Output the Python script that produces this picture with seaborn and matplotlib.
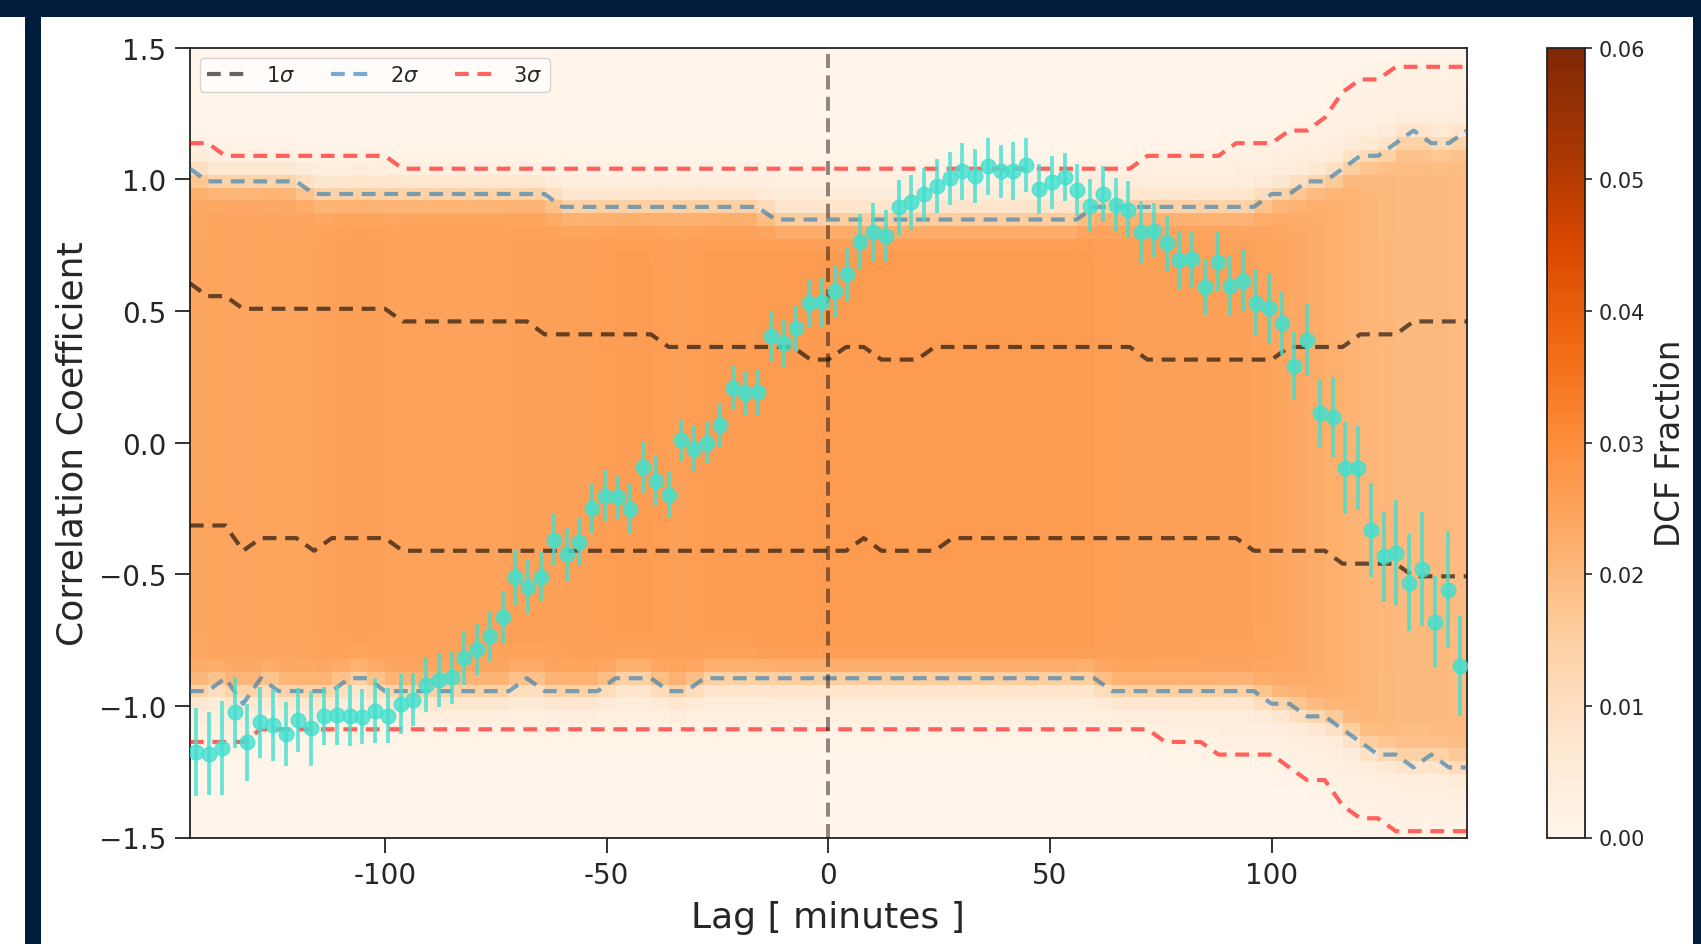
import numpy as np
import matplotlib
matplotlib.use("Agg")
import matplotlib.pyplot as plt
from matplotlib.patches import Rectangle
import seaborn as sns

# ---------------------------------------------------------------- data
# DCF of the observed light curves: 100 lag bins spanning -144 ... 144 min
lag_limits = (-144.0, 144.0)
n_lag_bins = 100

dcf_corr = [
    -1.177, -1.181, -1.160, -1.025, -1.139, -1.063, -1.073, -1.107, -1.054, -1.085,
    -1.037, -1.034, -1.037, -1.041, -1.018, -1.037, -0.993, -0.977, -0.920, -0.902,
    -0.892, -0.820, -0.784, -0.734, -0.664, -0.512, -0.548, -0.510, -0.370, -0.423,
    -0.379, -0.250, -0.202, -0.206, -0.252, -0.094, -0.145, -0.199, 0.010, -0.025,
    -0.002, 0.066, 0.209, 0.188, 0.191, 0.403, 0.378, 0.434, 0.530, 0.532,
    0.574, 0.639, 0.763, 0.798, 0.786, 0.893, 0.912, 0.943, 0.975, 1.003,
    1.030, 1.011, 1.049, 1.030, 1.030, 1.054, 0.963, 0.988, 1.007, 0.960,
    0.900, 0.944, 0.902, 0.884, 0.801, 0.805, 0.756, 0.694, 0.697, 0.589,
    0.684, 0.596, 0.615, 0.529, 0.510, 0.454, 0.289, 0.391, 0.112, 0.096,
    -0.097, -0.097, -0.331, -0.432, -0.420, -0.533, -0.480, -0.680, -0.559, -0.848,
]

dcf_err = [
    0.167, 0.157, 0.178, 0.135, 0.146, 0.134, 0.138, 0.122, 0.120, 0.142,
    0.110, 0.115, 0.115, 0.105, 0.122, 0.105, 0.113, 0.101, 0.105, 0.101,
    0.101, 0.100, 0.098, 0.095, 0.101, 0.104, 0.101, 0.096, 0.100, 0.101,
    0.091, 0.092, 0.096, 0.084, 0.093, 0.096, 0.093, 0.086, 0.080, 0.088,
    0.080, 0.086, 0.087, 0.085, 0.087, 0.092, 0.092, 0.085, 0.091, 0.097,
    0.100, 0.103, 0.104, 0.110, 0.098, 0.106, 0.103, 0.101, 0.103, 0.099,
    0.108, 0.103, 0.107, 0.101, 0.110, 0.103, 0.095, 0.101, 0.091, 0.098,
    0.101, 0.108, 0.103, 0.108, 0.118, 0.105, 0.105, 0.110, 0.108, 0.106,
    0.114, 0.115, 0.120, 0.125, 0.135, 0.120, 0.129, 0.138, 0.129, 0.152,
    0.174, 0.158, 0.179, 0.173, 0.201, 0.184, 0.215, 0.173, 0.222, 0.191,
]

# significance envelopes from simulated light curves, sampled every 4 min
sig_lags = np.arange(-144, 145, 4)

sig1_hi = [
    0.605, 0.556, 0.556, 0.508, 0.508, 0.508, 0.508, 0.508, 0.508, 0.508,
    0.508, 0.508, 0.460, 0.460, 0.460, 0.460, 0.460, 0.460, 0.460, 0.460,
    0.411, 0.411, 0.411, 0.411, 0.411, 0.411, 0.411, 0.363, 0.363, 0.363,
    0.363, 0.363, 0.363, 0.363, 0.363, 0.315, 0.315, 0.363, 0.363, 0.315,
    0.315, 0.315, 0.363, 0.363, 0.363, 0.363, 0.363, 0.363, 0.363, 0.363,
    0.363, 0.363, 0.363, 0.363, 0.315, 0.315, 0.315, 0.315, 0.315, 0.315,
    0.315, 0.315, 0.363, 0.363, 0.363, 0.363, 0.411, 0.411, 0.411, 0.460,
    0.460, 0.460, 0.460,
]
sig1_lo = [
    -0.315, -0.315, -0.315, -0.411, -0.363, -0.363, -0.363, -0.411, -0.363, -0.363,
    -0.363, -0.363, -0.411, -0.411, -0.411, -0.411, -0.411, -0.411, -0.411, -0.411,
    -0.411, -0.411, -0.411, -0.411, -0.411, -0.411, -0.411, -0.411, -0.411, -0.411,
    -0.411, -0.411, -0.411, -0.411, -0.411, -0.411, -0.411, -0.411, -0.363, -0.411,
    -0.411, -0.411, -0.411, -0.363, -0.363, -0.363, -0.363, -0.363, -0.363, -0.363,
    -0.363, -0.363, -0.363, -0.363, -0.363, -0.363, -0.363, -0.363, -0.363, -0.363,
    -0.411, -0.411, -0.411, -0.411, -0.411, -0.460, -0.460, -0.460, -0.460, -0.508,
    -0.508, -0.508, -0.508,
]
sig2_hi = [
    1.040, 0.992, 0.992, 0.992, 0.992, 0.992, 0.992, 0.944, 0.944, 0.944,
    0.944, 0.944, 0.944, 0.944, 0.944, 0.944, 0.944, 0.944, 0.944, 0.944,
    0.944, 0.895, 0.895, 0.895, 0.895, 0.895, 0.895, 0.895, 0.895, 0.895,
    0.895, 0.895, 0.895, 0.847, 0.847, 0.847, 0.847, 0.847, 0.847, 0.847,
    0.847, 0.847, 0.847, 0.847, 0.847, 0.847, 0.847, 0.847, 0.847, 0.847,
    0.847, 0.895, 0.895, 0.895, 0.895, 0.895, 0.895, 0.895, 0.895, 0.895,
    0.895, 0.944, 0.944, 0.992, 0.992, 1.040, 1.089, 1.089, 1.137, 1.185,
    1.137, 1.137, 1.185,
]
sig2_lo = [
    -0.944, -0.944, -0.895, -0.992, -0.895, -0.944, -0.944, -0.944, -0.944, -0.895,
    -0.895, -0.944, -0.944, -0.944, -0.944, -0.944, -0.944, -0.944, -0.944, -0.895,
    -0.944, -0.944, -0.944, -0.944, -0.895, -0.895, -0.895, -0.944, -0.944, -0.895,
    -0.895, -0.895, -0.895, -0.895, -0.895, -0.895, -0.895, -0.895, -0.895, -0.895,
    -0.895, -0.895, -0.895, -0.895, -0.895, -0.895, -0.895, -0.895, -0.895, -0.895,
    -0.895, -0.895, -0.944, -0.944, -0.944, -0.944, -0.944, -0.944, -0.944, -0.944,
    -0.944, -0.992, -0.992, -1.040, -1.040, -1.089, -1.137, -1.185, -1.185, -1.234,
    -1.185, -1.234, -1.234,
]
sig3_hi = [
    1.137, 1.137, 1.089, 1.089, 1.089, 1.089, 1.089, 1.089, 1.089, 1.089,
    1.089, 1.089, 1.040, 1.040, 1.040, 1.040, 1.040, 1.040, 1.040, 1.040,
    1.040, 1.040, 1.040, 1.040, 1.040, 1.040, 1.040, 1.040, 1.040, 1.040,
    1.040, 1.040, 1.040, 1.040, 1.040, 1.040, 1.040, 1.040, 1.040, 1.040,
    1.040, 1.040, 1.040, 1.040, 1.040, 1.040, 1.040, 1.040, 1.040, 1.040,
    1.040, 1.040, 1.040, 1.040, 1.089, 1.089, 1.089, 1.089, 1.089, 1.137,
    1.137, 1.137, 1.185, 1.185, 1.234, 1.331, 1.379, 1.379, 1.427, 1.427,
    1.427, 1.427, 1.427,
]
sig3_lo = [
    -1.137, -1.137, -1.137, -1.137, -1.089, -1.089, -1.089, -1.089, -1.089, -1.089,
    -1.089, -1.089, -1.089, -1.089, -1.089, -1.089, -1.089, -1.089, -1.089, -1.089,
    -1.089, -1.089, -1.089, -1.089, -1.089, -1.089, -1.089, -1.089, -1.089, -1.089,
    -1.089, -1.089, -1.089, -1.089, -1.089, -1.089, -1.089, -1.089, -1.089, -1.089,
    -1.089, -1.089, -1.089, -1.089, -1.089, -1.089, -1.089, -1.089, -1.089, -1.089,
    -1.089, -1.089, -1.089, -1.089, -1.089, -1.137, -1.137, -1.137, -1.185, -1.185,
    -1.185, -1.185, -1.234, -1.282, -1.282, -1.379, -1.427, -1.427, -1.476, -1.476,
    -1.476, -1.476, -1.476,
]

x_ticks = [-100, -50, 0, 50, 100]
y_ticks = [-1.5, -1.0, -0.5, 0.0, 0.5, 1.0, 1.5]
cbar_ticks = [0.00, 0.01, 0.02, 0.03, 0.04, 0.05, 0.06]

# ---------------------------------------------------------------- derived grids
lag_edges = np.linspace(lag_limits[0], lag_limits[1], n_lag_bins + 1)
dcf_lags = 0.5 * (lag_edges[:-1] + lag_edges[1:])

# simulated-DCF histogram: 72 lag columns x 62 correlation rows, each
# column holding the fraction of simulated DCF values per correlation bin
map_lag_edges = sig_lags.astype(float)
corr_edges = np.linspace(-1.5, 1.5, 63)
corr_mid = 0.5 * (corr_edges[:-1] + corr_edges[1:])


def column_mean(v):
    v = np.asarray(v, dtype=float)
    return 0.5 * (v[:-1] + v[1:])


def soft_band(lo, hi, width):
    r = corr_mid[:, None]
    return (1.0 / (1.0 + np.exp(-(r - lo[None, :]) / width))) * \
           (1.0 / (1.0 + np.exp(-(hi[None, :] - r) / width)))


core = soft_band(column_mean(sig2_lo), column_mean(sig2_hi), 0.032)
tail = soft_band(column_mean(sig3_lo), column_mean(sig3_hi), 0.04)
dcf_fraction = core + 0.16 * tail
dcf_fraction /= dcf_fraction.sum(axis=0, keepdims=True)

# ---------------------------------------------------------------- figure
sns.set_style("ticks")
plt.rcParams["font.family"] = ["DejaVu Sans"]
plt.rcParams["mathtext.fontset"] = "dejavusans"

W, H = 1701, 945
fig = plt.figure(figsize=(W / 100, H / 100), dpi=100)
fig.patch.set_facecolor("white")

ax_l, ax_b = 189.9 / W, (H - 838.5) / H
ax_w, ax_h = 1276.8 / W, 789.9 / H
ax = fig.add_axes([ax_l, ax_b, ax_w, ax_h])
cax = fig.add_axes([1546.7 / W, ax_b, 38.5 / W, ax_h])

mesh = ax.pcolormesh(map_lag_edges, corr_edges, dcf_fraction, cmap="Oranges",
                     vmin=0.0, vmax=0.06, shading="flat", zorder=1)

envelopes = [
    (r"$1\sigma$", sig1_hi, sig1_lo, "black"),
    (r"$2\sigma$", sig2_hi, sig2_lo, "#1f77b4"),
    (r"$3\sigma$", sig3_hi, sig3_lo, "red"),
]
dash = (0, (3.3, 2.1))
for label, hi, lo, colour in envelopes:
    sns.lineplot(x=sig_lags, y=hi, ax=ax, color=colour, alpha=0.6, lw=3.0,
                 linestyle=dash, label=label, legend=False, sort=False,
                 estimator=None, zorder=3)
    sns.lineplot(x=sig_lags, y=lo, ax=ax, color=colour, alpha=0.6, lw=3.0,
                 linestyle=dash, legend=False, sort=False, estimator=None,
                 zorder=3)

ax.axvline(0, color="black", alpha=0.45, lw=2.8, linestyle=(0, (3.6, 1.9)),
           zorder=4)

ax.errorbar(dcf_lags, dcf_corr, yerr=dcf_err, fmt="o", color="turquoise",
            alpha=0.8, ms=10.5, elinewidth=2.7, capsize=0, zorder=5)

ax.set_xlim(*lag_limits)
ax.set_ylim(-1.5, 1.5)
ax.set_xticks(x_ticks)
ax.set_xticklabels([f"{t:d}" for t in x_ticks])
ax.set_yticks(y_ticks)
ax.set_yticklabels([f"{t:.1f}".replace("-", "\u2212") for t in y_ticks])
ax.tick_params(axis="both", direction="out", length=11, width=1.3,
               labelsize=20, pad=6, color="#222222")
for sp in ax.spines.values():
    sp.set_visible(True)
    sp.set_linewidth(1.3)
    sp.set_color("#222222")

ax.set_xlabel("Lag [ minutes ]", fontsize=26, labelpad=8)
ax.set_ylabel("Correlation Coefficient", fontsize=26, labelpad=7)

leg = ax.legend(loc="upper left", ncol=3, fontsize=15, frameon=True,
                fancybox=True, framealpha=0.8, edgecolor="#cccccc",
                handlelength=1.9, handletextpad=0.9, columnspacing=1.75,
                borderpad=0.34, borderaxespad=0.5)
leg.set_zorder(10)

cbar = fig.colorbar(mesh, cax=cax, ticks=cbar_ticks)
cbar.ax.set_yticklabels([f"{t:.2f}" for t in cbar_ticks])
cbar.ax.tick_params(labelsize=15, length=5, width=1.2, pad=5)
cbar.outline.set_linewidth(1.3)
cbar.outline.set_edgecolor("#222222")
cbar.set_label("DCF Fraction", fontsize=23.5, labelpad=6)

# slide frame around the figure
navy = "#011b3d"
for x0, y0, w, h in [(0, H - 18, W, 18), (25, 0, 16, H), (1693, 0, 8, H)]:
    fig.add_artist(Rectangle((x0 / W, y0 / H), w / W, h / H,
                             transform=fig.transFigure, color=navy,
                             lw=0, zorder=20))

fig.savefig("out.png", dpi=100)
